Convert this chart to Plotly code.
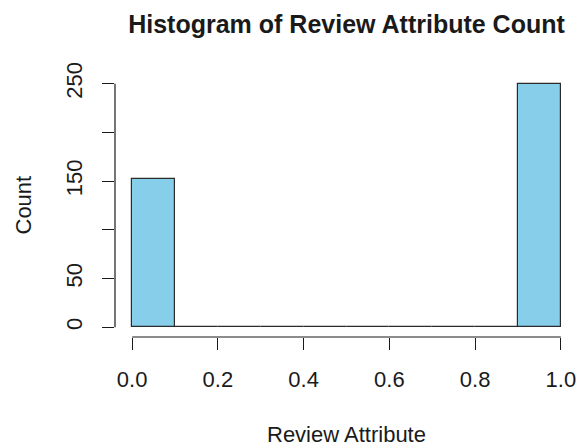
import plotly.graph_objects as go

# Data
bin_edges = [0.0, 0.1, 0.2, 0.3, 0.4, 0.5, 0.6, 0.7, 0.8, 0.9, 1.0]
counts = [152, 0, 0, 0, 0, 0, 0, 0, 0, 250]
x_ticks = [0.0, 0.2, 0.4, 0.6, 0.8, 1.0]
x_tick_labels = ["0.0", "0.2", "0.4", "0.6", "0.8", "1.0"]
y_ticks = [0, 50, 100, 150, 200, 250]
y_tick_labels = ["0", "50", "", "150", "", "250"]

title = "Histogram of Review Attribute Count"
x_title = "Review Attribute"
y_title = "Count"

centers = [(a + b) / 2 for a, b in zip(bin_edges[:-1], bin_edges[1:])]
widths = [b - a for a, b in zip(bin_edges[:-1], bin_edges[1:])]

FONT = "Liberation Sans, Arial, sans-serif"
INK = "#1a1a1a"

fig = go.Figure(
    go.Bar(
        x=centers,
        y=counts,
        width=widths,
        marker=dict(color="#87CEEB", line=dict(color="#2b2b2b", width=1.2)),
        hoverinfo="x+y",
    )
)

span = bin_edges[-1] - bin_edges[0]
xr = [bin_edges[0] - 0.04 * span, bin_edges[-1] + 0.04 * span]
ymax = max(y_ticks[-1], max(counts))
yr = [-0.04 * ymax, 1.04 * ymax]

# page body has an 8px margin; figure is sized so it fits the 586x448 window
W, H = 578, 440

fig.update_layout(
    width=W,
    height=H,
    margin=dict(l=107, r=8, t=66, b=111),
    paper_bgcolor="white",
    plot_bgcolor="white",
    showlegend=False,
    bargap=0,
    font=dict(family=FONT, color=INK),
    title=dict(
        text="<b>" + title + "</b>",
        x=0.5,
        xref="paper",
        y=1 - 16 / H,
        yref="container",
        yanchor="middle",
        xanchor="center",
        font=dict(size=25, family=FONT, color=INK),
    ),
    xaxis=dict(
        range=xr,
        showgrid=False,
        zeroline=False,
        showline=False,
        tickmode="array",
        tickvals=x_ticks,
        ticktext=x_tick_labels,
        ticks="outside",
        ticklen=12,
        tickwidth=1.2,
        tickcolor=INK,
        tickfont=dict(size=22, family=FONT, color=INK),
        ticklabelstandoff=11,
    ),
    yaxis=dict(
        range=yr,
        showgrid=False,
        zeroline=False,
        showline=False,
        tickmode="array",
        tickvals=y_ticks,
        ticktext=y_tick_labels,
        ticks="outside",
        ticklen=12,
        tickwidth=1.2,
        tickcolor=INK,
        tickangle=-90,
        tickfont=dict(size=22, family=FONT, color=INK),
        ticklabelstandoff=11,
    ),
    shapes=[
        dict(type="line", xref="x", yref="paper", x0=x_ticks[0], x1=x_ticks[-1], y0=0, y1=0,
             line=dict(color=INK, width=1.2)),
        dict(type="line", xref="paper", yref="y", x0=0, x1=0, y0=y_ticks[0], y1=y_ticks[-1],
             line=dict(color=INK, width=1.2)),
    ],
    annotations=[
        dict(text=x_title, xref="paper", yref="paper", x=0.5, y=0, xanchor="center", yanchor="middle",
             yshift=-97, showarrow=False, font=dict(size=22, family=FONT, color=INK)),
        dict(text=y_title, xref="paper", yref="paper", x=0, y=0.5, xanchor="center", yanchor="middle",
             xshift=-92, textangle=-90, showarrow=False, font=dict(size=22, family=FONT, color=INK)),
    ],
)

fig.write_html("out.html")
